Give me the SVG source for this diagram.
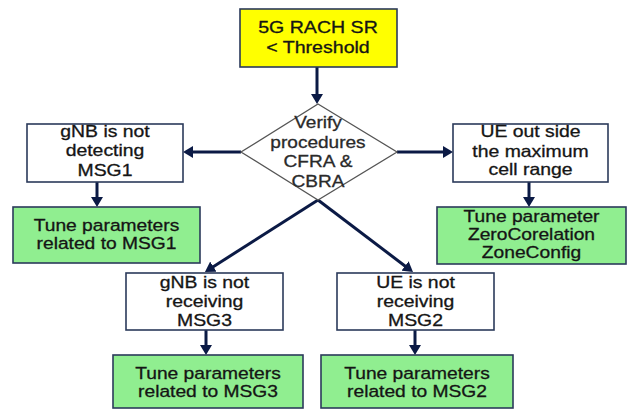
<svg xmlns="http://www.w3.org/2000/svg" width="633" height="410" viewBox="0 0 633 410">
  <style>
    .box { fill: #ffffff; stroke: #2b3a5a; stroke-width: 1.6; }
    .start { fill: #ffff00; stroke: #2b3a5a; stroke-width: 1.6; }
    .green { fill: #90ee90; stroke: #2b3a5a; stroke-width: 1.6; }
    .dia { fill: #ffffff; stroke: #555555; stroke-width: 1.3; }
    text { font-family: "Liberation Sans", Arial, sans-serif; font-size: 16.3px; fill: #151515; stroke: #151515; stroke-width: 0.3; text-anchor: middle; }
    .dt { fill: #2a2a2a; stroke: #2a2a2a; }
    .conn { stroke: #0b1a45; stroke-width: 3; fill: none; marker-end: url(#ah); }
  </style>
  <defs>
    <marker id="ah" markerUnits="userSpaceOnUse" markerWidth="12" markerHeight="12" refX="2" refY="6" orient="auto">
      <path d="M0,0 L10,6 L0,12 z" fill="#0b1a45"/>
    </marker>
  </defs>
  <rect width="633" height="410" fill="#ffffff"/>

  <g id="connectors">
    <line class="conn" x1="317" y1="67" x2="317" y2="96"/>
    <line class="conn" x1="241" y1="152" x2="191" y2="152"/>
    <line class="conn" x1="397" y1="152" x2="445" y2="152"/>
    <line class="conn" x1="97" y1="182" x2="97" y2="199"/>
    <line class="conn" x1="529" y1="182" x2="529" y2="199"/>
    <line class="conn" x1="318" y1="200" x2="211.7" y2="267.7"/>
    <line class="conn" x1="318" y1="200" x2="406.6" y2="267.2"/>
    <line class="conn" x1="206" y1="330" x2="206" y2="347"/>
    <line class="conn" x1="415" y1="330" x2="415" y2="347"/>
  </g>

  <g id="start">
    <rect class="start" x="240" y="9" width="157" height="58"/>
    <text transform="translate(318,0) scale(1.2,1)" x="0" y="33.5">5G RACH SR</text>
    <text transform="translate(318,0) scale(1.2,1)" x="0" y="53">&lt; Threshold</text>
  </g>

  <g id="verify">
    <polygon class="dia" points="318,104 397,152 318,200 241,152"/>
    <text class="dt" transform="translate(318,0) scale(1.17,1)" x="0" y="128">Verify</text>
    <text class="dt" transform="translate(318,0) scale(1.17,1)" x="0" y="148">procedures</text>
    <text class="dt" transform="translate(318,0) scale(1.17,1)" x="0" y="167.5">CFRA &amp;</text>
    <text class="dt" transform="translate(318,0) scale(1.17,1)" x="0" y="187">CBRA</text>
  </g>

  <g id="msg1-issue">
    <rect class="box" x="27" y="124" width="156" height="58"/>
    <text transform="translate(105,0) scale(1.19,1)" x="0" y="137">gNB is not</text>
    <text transform="translate(105,0) scale(1.19,1)" x="0" y="156.5">detecting</text>
    <text transform="translate(105,0) scale(1.19,1)" x="0" y="176">MSG1</text>
  </g>

  <g id="msg1-tune">
    <rect class="green" x="13" y="207" width="187" height="56"/>
    <text transform="translate(106.5,0) scale(1.18,1)" x="0" y="231.5">Tune parameters</text>
    <text transform="translate(106.5,0) scale(1.18,1)" x="0" y="249.5">related to MSG1</text>
  </g>

  <g id="range-issue">
    <rect class="box" x="453" y="124" width="155" height="58"/>
    <text transform="translate(530.5,0) scale(1.19,1)" x="0" y="137.5">UE out side</text>
    <text transform="translate(530.5,0) scale(1.19,1)" x="0" y="157">the maximum</text>
    <text transform="translate(530.5,0) scale(1.19,1)" x="0" y="175.5">cell range</text>
  </g>

  <g id="range-tune">
    <rect class="green" x="437" y="207" width="189" height="57"/>
    <text transform="translate(531.5,0) scale(1.18,1)" x="0" y="222.5">Tune parameter</text>
    <text transform="translate(531.5,0) scale(1.18,1)" x="0" y="240.5">ZeroCorelation</text>
    <text transform="translate(531.5,0) scale(1.18,1)" x="0" y="258.5">ZoneConfig</text>
  </g>

  <g id="msg3-issue">
    <rect class="box" x="126" y="273" width="157" height="57"/>
    <text transform="translate(204.5,0) scale(1.19,1)" x="0" y="288.5">gNB is not</text>
    <text transform="translate(204.5,0) scale(1.19,1)" x="0" y="307.5">receiving</text>
    <text transform="translate(204.5,0) scale(1.19,1)" x="0" y="326">MSG3</text>
  </g>

  <g id="msg2-issue">
    <rect class="box" x="337" y="273" width="157" height="57"/>
    <text transform="translate(415.5,0) scale(1.19,1)" x="0" y="288.5">UE is not</text>
    <text transform="translate(415.5,0) scale(1.19,1)" x="0" y="307.5">receiving</text>
    <text transform="translate(415.5,0) scale(1.19,1)" x="0" y="326">MSG2</text>
  </g>

  <g id="msg3-tune">
    <rect class="green" x="113" y="355" width="190" height="53"/>
    <text transform="translate(208,0) scale(1.18,1)" x="0" y="379">Tune parameters</text>
    <text transform="translate(208,0) scale(1.18,1)" x="0" y="397">related to MSG3</text>
  </g>

  <g id="msg2-tune">
    <rect class="green" x="321" y="355" width="192" height="53"/>
    <text transform="translate(417,0) scale(1.18,1)" x="0" y="379">Tune parameters</text>
    <text transform="translate(417,0) scale(1.18,1)" x="0" y="397">related to MSG2</text>
  </g>
</svg>
